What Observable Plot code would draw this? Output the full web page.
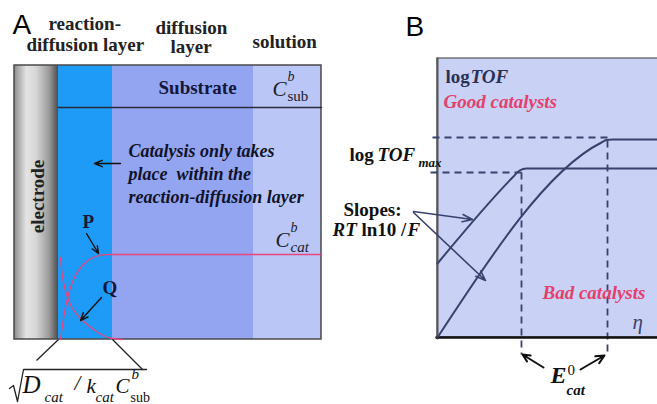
<!DOCTYPE html>
<html><head><meta charset="utf-8">
<script src="https://cdn.jsdelivr.net/npm/d3@7"></script>
<script src="https://cdn.jsdelivr.net/npm/@observablehq/plot@0.6"></script>
<style>html,body{margin:0;padding:0;background:#fff;overflow:hidden}</style>
</head><body><div id="chart"></div>
<script>
// ---------- Panel A data (diagram coordinates) ----------
const layers = [
  {layer: "electrode", x1: 14, x2: 58, y1: 65, y2: 339},
  {layer: "reaction-diffusion", x1: 58, x2: 112, y1: 65, y2: 339},
  {layer: "diffusion", x1: 112, x2: 253, y1: 65, y2: 339},
  {layer: "solution", x1: 253, x2: 321, y1: 65, y2: 339}
];
const frameA = [{x1: 14, x2: 321, y1: 65, y2: 339}];
const substrateLine = [{x: 58, y: 107}, {x: 321, y: 107}];
const catBulkLine = [{x: 112, y: 254}, {x: 321, y: 254}];
const curveP = [[60,339],[62,325],[64,312],[67,298],[71,284],[76,273],[82,265],[89,259],[97,255.5],[105,254.2],[112,254]];
const curveQ = [[60,257],[61,268],[63,282],[67,297],[72,308],[80,318],[88,325],[96,331],[104,335.5],[112,338],[122,339]];
const zoomLines = [{x1: 58, y1: 339, x2: 36, y2: 360}, {x1: 112, y1: 339, x2: 142, y2: 369}];
const radical = [[9,388],[13,385],[17,401],[23,369],[146,369]];
const arrowsA = [
  {x1: 120, y1: 163, x2: 94, y2: 163},
  {x1: 86, y1: 233, x2: 98, y2: 253},
  {x1: 101, y1: 297, x2: 80, y2: 320}
];

// ---------- Panel B data ----------
const frameB = [{x1: 437, x2: 660, y1: 58, y2: 337}];
const axisLeft = [{x: 437, y: 58}, {x: 437, y: 338}];
const axisBottom = [{x: 436, y: 337}, {x: 657, y: 337}];
const goodCatalyst = [[437,263],[513,176],[519,170],[526,168],[657,168]];
const badCatalyst = [[437,337],[601,142],[606,139.6],[612,139],[657,139]];
const dashed = [
  {x1: 432, y1: 137, x2: 607, y2: 137},
  {x1: 430, y1: 172, x2: 521, y2: 172},
  {x1: 521, y1: 172, x2: 521, y2: 354},
  {x1: 607, y1: 140, x2: 607, y2: 354}
];
const slopeArrows = [{x1: 413, y1: 211, x2: 472, y2: 219}, {x1: 413, y1: 212, x2: 485, y2: 280}];
const eArrows = [{x1: 543, y1: 367, x2: 522, y2: 354}, {x1: 580, y1: 369, x2: 604, y2: 355}];

// ---------- Text ----------
const panelLabels = [{x: 12, y: 33, text: "A"}, {x: 405, y: 35, text: "B"}];
const headerLabels = [
  {x: 48, y: 29, text: "reaction-"},
  {x: 26, y: 50, text: "diffusion layer"},
  {x: 155, y: 33, text: "diffusion"},
  {x: 170, y: 52, text: "layer"},
  {x: 252, y: 47, text: "solution"}
];
const boldLabels = [
  {x: 158, y: 93, text: "Substrate"},
  {x: 82, y: 227, text: "P"},
  {x: 102, y: 293, text: "Q"}
];
const catalysisNote = [
  {x: 128, y: 156, text: "Catalysis only takes"},
  {x: 128, y: 179, text: "place  within the"},
  {x: 128, y: 202, text: "reaction-diffusion layer"}
];
const electrodeLabel = [{x: 43, y: 196, text: "electrode"}];
const mathMain = [
  {x: 272, y: 95, text: "C"}, {x: 275, y: 246, text: "C"}
];
const mathSup = [{x: 287, y: 80, text: "b"}, {x: 290, y: 231, text: "b"}];
const mathSubUpright = [{x: 287, y: 100, text: "sub"}];
const mathSubItalic = [{x: 290, y: 251, text: "cat"}];
const formulaBig = [{x: 22, y: 392, text: "D"}];
const formulaMid = [{x: 74, y: 389, text: "/"}, {x: 86, y: 392, text: "k"}, {x: 115, y: 392, text: "C"}];
const formulaSub = [{x: 44, y: 401, text: "cat"}, {x: 95, y: 401, text: "cat"}];
const formulaSubUp = [{x: 130, y: 401, text: "sub"}];
const formulaSup = [{x: 131, y: 378, text: "b"}];

const bLogLabels = [{x: 445, y: 82, text: "log", fill: "#2b3153"}, {x: 349, y: 160, text: "log", fill: "#111"}];
const bTofLabels = [{x: 470, y: 82, text: "TOF", fill: "#2b3153"}, {x: 377, y: 160, text: "TOF", fill: "#111"}];
const bMaxLabel = [{x: 418, y: 166, text: "max"}];
const redLabels = [{x: 443, y: 107, text: "Good catalysts"}, {x: 542, y: 298, text: "Bad catalysts"}];
const slopeBold = [{x: 343, y: 215, text: "Slopes:"}, {x: 361, y: 235, text: "ln10 /"}];
const slopeItalic = [{x: 332, y: 235, text: "RT"}, {x: 407, y: 235, text: "F"}];
const etaLabel = [{x: 632, y: 328, text: "η"}];
const eLabel = [{x: 550, y: 382, text: "E"}];
const eSup = [{x: 567, y: 374, text: "0"}];
const eSub = [{x: 566, y: 394, text: "cat"}];

// ---------- Styles ----------
const layerFill = {
  "electrode": "url(#electrodeGrad)",
  "reaction-diffusion": "#1d9bf6",
  "diffusion": "#93a5f0",
  "solution": "#bac6f6"
};
const SERIF = "'Liberation Serif', 'Times New Roman', 'DejaVu Serif', serif";
const SANS = "'Liberation Sans', Arial, sans-serif";
const NAVY = "#39426c";
const RED = "#e4406c";
const CURVE_RED = "#e8467c";

function txt(data, o) {
  return Plot.text(data, Object.assign({x: "x", y: "y", text: "text", textAnchor: "start", lineAnchor: "bottom", fontFamily: SERIF, fill: "#111"}, o));
}
function pts(a) { return a.map(([x, y]) => ({x, y})); }

const chart = Plot.plot({
  width: 657, height: 404,
  margin: 0,
  x: {domain: [0, 657], range: [0, 657], axis: null},
  y: {domain: [0, 404], range: [0, 404], axis: null},
  style: {background: "white", overflow: "hidden", fontFamily: SERIF},
  marks: [
    // Panel A
    ...layers.map(l => Plot.rect([l], {x1: "x1", x2: "x2", y1: "y1", y2: "y2", fill: layerFill[l.layer]})),
    Plot.rect(frameA, {x1: "x1", x2: "x2", y1: "y1", y2: "y2", fill: "none", stroke: "#4a4a4a", strokeWidth: 1.5}),
    Plot.line(substrateLine, {x: "x", y: "y", stroke: "#2a2a3a", strokeWidth: 1.5}),
    Plot.line(catBulkLine, {x: "x", y: "y", stroke: CURVE_RED, strokeWidth: 1.5}),
    Plot.line(pts(curveP), {x: "x", y: "y", stroke: CURVE_RED, strokeWidth: 1.3, curve: "catmull-rom"}),
    Plot.line(pts(curveQ), {x: "x", y: "y", stroke: CURVE_RED, strokeWidth: 1.3, curve: "catmull-rom"}),
    Plot.link(zoomLines, {x1: "x1", y1: "y1", x2: "x2", y2: "y2", stroke: "#222", strokeWidth: 1.3}),
    Plot.line(pts(radical), {x: "x", y: "y", stroke: "#222", strokeWidth: 1.3}),
    Plot.arrow(arrowsA, {x1: "x1", y1: "y1", x2: "x2", y2: "y2", stroke: "#111", strokeWidth: 1.4, headLength: 9, headAngle: 45}),
    // Panel B
    Plot.rect(frameB, {x1: "x1", x2: "x2", y1: "y1", y2: "y2", fill: "#c9d2f5", stroke: "#555", strokeWidth: 1.2}),
    Plot.line(axisLeft, {x: "x", y: "y", stroke: "#555", strokeWidth: 2}),
    Plot.link(dashed, {x1: "x1", y1: "y1", x2: "x2", y2: "y2", stroke: NAVY, strokeWidth: 1.8, strokeDasharray: "7,5"}),
    Plot.line(axisBottom, {x: "x", y: "y", stroke: "#111", strokeWidth: 2.5}),
    Plot.line(pts(goodCatalyst), {x: "x", y: "y", stroke: NAVY, strokeWidth: 2, curve: "monotone-x"}),
    Plot.line(pts(badCatalyst), {x: "x", y: "y", stroke: NAVY, strokeWidth: 2, curve: "monotone-x"}),
    Plot.arrow(slopeArrows, {x1: "x1", y1: "y1", x2: "x2", y2: "y2", stroke: NAVY, strokeWidth: 1.6, headLength: 10, headAngle: 40}),
    Plot.arrow(eArrows, {x1: "x1", y1: "y1", x2: "x2", y2: "y2", stroke: "#111", strokeWidth: 2, headLength: 10, headAngle: 50}),
    // Text
    txt(panelLabels, {fontFamily: SANS, fontSize: 28, fill: "#000"}),
    txt(headerLabels, {fontSize: 19, fontWeight: "bold", fill: "#222"}),
    txt(boldLabels, {fontSize: 19, fontWeight: "bold", fill: "#14163a"}),
    txt(catalysisNote, {fontSize: 18, fontWeight: "bold", fontStyle: "italic", fill: "#10122a"}),
    txt(electrodeLabel, {fontSize: 19, fontWeight: "bold", rotate: -90, textAnchor: "middle", fill: "#222"}),
    txt(mathMain, {fontSize: 21, fontStyle: "italic", fill: "#1a1a2a"}),
    txt(mathSup, {fontSize: 14, fontStyle: "italic", fill: "#1a1a2a"}),
    txt(mathSubUpright, {fontSize: 15, fill: "#1a1a2a"}),
    txt(mathSubItalic, {fontSize: 15, fontStyle: "italic", fill: "#1a1a2a"}),
    txt(formulaBig, {fontSize: 25, fontStyle: "italic"}),
    txt(formulaMid, {fontSize: 21, fontStyle: "italic"}),
    txt(formulaSub, {fontSize: 15, fontStyle: "italic"}),
    txt(formulaSubUp, {fontSize: 14}),
    txt(formulaSup, {fontSize: 15, fontStyle: "italic"}),
    txt(bLogLabels, {fontSize: 19, fontWeight: "bold", fill: "fill"}),
    txt(bTofLabels, {fontSize: 19, fontWeight: "bold", fontStyle: "italic", fill: "fill"}),
    txt(bMaxLabel, {fontSize: 13, fontWeight: "bold", fontStyle: "italic"}),
    txt(redLabels, {fontSize: 19, fontWeight: "bold", fontStyle: "italic", fill: RED}),
    txt(slopeBold, {fontSize: 19, fontWeight: "bold"}),
    txt(slopeItalic, {fontSize: 19, fontWeight: "bold", fontStyle: "italic"}),
    txt(etaLabel, {fontSize: 21, fontStyle: "italic", fill: NAVY}),
    txt(eLabel, {fontSize: 24, fontWeight: "bold", fontStyle: "italic"}),
    txt(eSup, {fontSize: 15}),
    txt(eSub, {fontSize: 15, fontWeight: "bold", fontStyle: "italic"})
  ]
});

// Gradient definition for the electrode shading
const defs = d3.select(chart).insert("defs", ":first-child");
const grad = defs.append("linearGradient").attr("id", "electrodeGrad").attr("x1", "0").attr("x2", "1").attr("y1", "0").attr("y2", "0");
[[0, "#8c8c8c"], [0.28, "#e4e4e4"], [0.5, "#d6d6d6"], [0.8, "#9a9a9a"], [1, "#4d4d4d"]]
  .forEach(([o, c]) => grad.append("stop").attr("offset", o).attr("stop-color", c));

document.getElementById("chart").appendChild(chart);
</script></body></html>
